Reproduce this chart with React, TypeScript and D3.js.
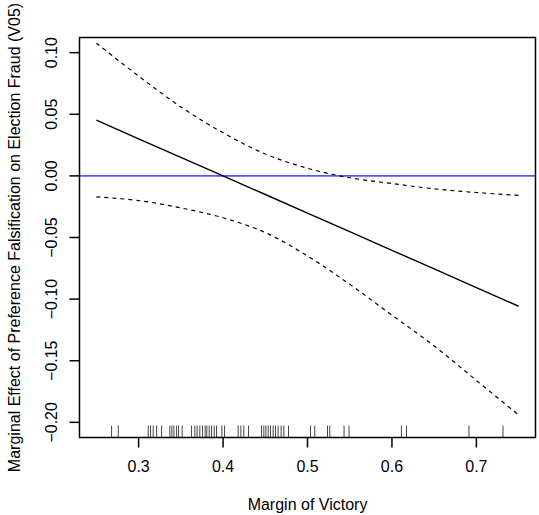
import React from "react";
import * as d3 from "d3";

const xGrid = [0.25, 0.3, 0.35, 0.4, 0.45, 0.5, 0.55, 0.6, 0.65, 0.7, 0.75];
const effect = [0.0452, 0.0301, 0.0150, 0.0, -0.0151, -0.0302, -0.0453, -0.0604, -0.0755, -0.0906, -0.1058];
const upper = [0.1077, 0.081, 0.056, 0.035, 0.0178, 0.0062, -0.0015, -0.0062, -0.0105, -0.0135, -0.0158];
const lower = [-0.017, -0.02, -0.026, -0.034, -0.046, -0.065, -0.088, -0.113, -0.138, -0.166, -0.194];
const rugValues = [
  0.268, 0.2759, 0.3114, 0.3142, 0.3173, 0.3213, 0.3272, 0.337, 0.3394, 0.3418, 0.345, 0.3473, 0.3516,
  0.3627, 0.3666, 0.3693, 0.3725, 0.3757, 0.3788, 0.3808, 0.3836, 0.3864, 0.3895, 0.3923, 0.3986, 0.4018,
  0.4179, 0.4211, 0.4246, 0.4302, 0.4456, 0.4483, 0.4507, 0.4534, 0.4562, 0.4593, 0.4621, 0.4652, 0.4688,
  0.472, 0.4775, 0.5036, 0.5086, 0.5237, 0.5264, 0.5433, 0.5492, 0.6112, 0.6172, 0.6912, 0.7315,
];
const xTicks = [0.3, 0.4, 0.5, 0.6, 0.7];
const yTicks = [0.1, 0.05, 0.0, -0.05, -0.1, -0.15, -0.2];
const xTitle = "Margin of Victory";
const yTitle = "Marginal Effect of Preference Falsification on Election Fraud (V05)";

const W = 539;
const H = 515;
const L = 79.5, R = 535.5, T = 37.5, B = 437.5;
const FONT = "'Liberation Sans', Arial, Helvetica, sans-serif";

export default function App() {
  const x = d3.scaleLinear().domain([0.23, 0.77]).range([L, R]);
  const y = d3.scaleLinear().domain([-0.2123, 0.1123]).range([B, T]);
  const line = d3
    .line<number>()
    .x((_, i) => x(xGrid[i]))
    .y((d) => y(d));
  const curve = d3
    .line<number>()
    .x((_, i) => x(xGrid[i]))
    .y((d) => y(d))
    .curve(d3.curveCatmullRom.alpha(0.5));
  const fmtY = (v: number) => {
    const s = Math.abs(v).toFixed(2);
    return v < 0 ? "\u2212" + s : s;
  };
  const rugLen = 12;
  return (
    <svg
      width={W}
      height={H}
      style={{ position: "absolute", left: 0, top: 0, background: "#fff" }}
      fontFamily={FONT}
    >
      <rect x={0} y={0} width={W} height={H} fill="#fff" />
      <line x1={L} x2={R} y1={y(0)} y2={y(0)} stroke="#4d5ff0" strokeWidth={1.6} />
      <path d={line(effect) ?? ""} fill="none" stroke="#000" strokeWidth={1.4} />
      <path d={curve(upper) ?? ""} fill="none" stroke="#000" strokeWidth={1.2} strokeDasharray="4,4" />
      <path d={curve(lower) ?? ""} fill="none" stroke="#000" strokeWidth={1.2} strokeDasharray="4,4" />
      {rugValues.map((v, i) => (
        <line
          key={i}
          x1={x(v)}
          x2={x(v)}
          y1={B}
          y2={B - rugLen}
          stroke="#444"
          strokeWidth={1}
        />
      ))}
      <rect x={L} y={T} width={R - L} height={B - T} fill="none" stroke="#000" strokeWidth={1.5} />
      {xTicks.map((t) => (
        <g key={t}>
          <line x1={x(t)} x2={x(t)} y1={B} y2={B + 10} stroke="#000" strokeWidth={1.5} />
          <text x={x(t)} y={471.5} fontSize={16} textAnchor="middle" fill="#000">
            {t.toFixed(1)}
          </text>
        </g>
      ))}
      {yTicks.map((t) => (
        <g key={t}>
          <line x1={L - 10} x2={L} y1={y(t)} y2={y(t)} stroke="#000" strokeWidth={1.5} />
          <text
            transform={`translate(56.5,${y(t)}) rotate(-90)`}
            fontSize={16}
            textAnchor="middle"
            fill="#000"
          >
            {fmtY(t)}
          </text>
        </g>
      ))}
      <text x={(L + R) / 2} y={510} fontSize={16} textAnchor="middle" fill="#000">
        {xTitle}
      </text>
      <text
        transform={`translate(19.5,${(T + B) / 2}) rotate(-90)`}
        fontSize={16}
        textAnchor="middle"
        fill="#000"
      >
        {yTitle}
      </text>
    </svg>
  );
}
